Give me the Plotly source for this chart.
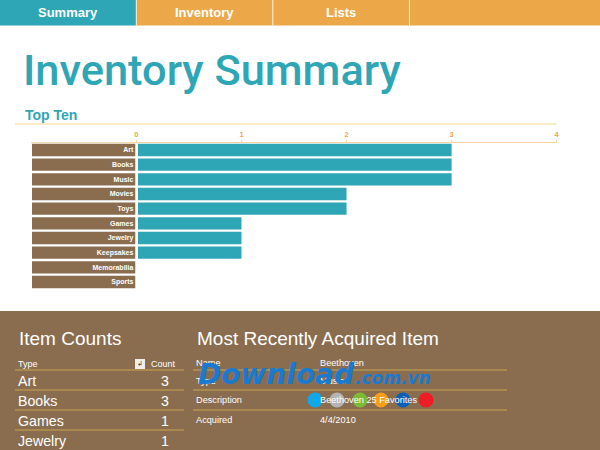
import plotly.graph_objects as go

# Data
categories = ["Art", "Books", "Music", "Movies", "Toys", "Games", "Jewelry", "Keepsakes", "Memorabilia", "Sports"]
values = [3, 3, 3, 2, 2, 1, 1, 1, 0, 0]
x_ticks = [0, 1, 2, 3, 4]
count_types = ["Art", "Books", "Games", "Jewelry"]
count_values = [3, 3, 1, 1]
detail_names = ["Name", "Type", "Description", "Acquired"]
detail_values = ["Beethoven", "Music", "Beethoven 25 Favorites", "4/4/2010"]
nav_labels = ["Summary", "Inventory", "Lists"]
badge_colors = ["#0fa8ea", "#b4b4b4", "#7cbb35", "#f79d1c", "#0b62b4", "#ee1c25"]

TEAL = "#2fa6b6"
ORANGE = "#eca848"
BROWN = "#8a6d4e"
RULE = "#b4934f"
PALE = "#f6d88f"
SANS = "Liberation Sans"
W, H = 600, 450


def px(x):
    return x / W


def py(y):
    return 1 - y / H


shapes = []
annots = []


def rect(x0, y0, x1, y1, color, layer="below"):
    shapes.append(dict(type="rect", xref="paper", yref="paper", x0=px(x0), x1=px(x1), y0=py(y0), y1=py(y1),
                       fillcolor=color, line_width=0, layer=layer))


def hline(x0, x1, y, color, width=1.2):
    shapes.append(dict(type="line", xref="paper", yref="paper", x0=px(x0), x1=px(x1), y0=py(y), y1=py(y),
                       line=dict(color=color, width=width), layer="below"))


def text(x, y, s, size, color="white", anchor="left", font=SANS, weight=None):
    f = dict(size=size, color=color, family=font)
    if weight:
        f["weight"] = weight
    annots.append(dict(xref="paper", yref="paper", x=px(x), y=py(y), text=s, showarrow=False, xanchor=anchor,
                       yanchor="middle", font=f, borderpad=0, borderwidth=0))


# Navigation
rect(0, 0, 136, 25.5, TEAL)
rect(136, 0, 600, 25.5, ORANGE)
for sx in (136.3, 272.8, 409.5):
    shapes.append(dict(type="line", xref="paper", yref="paper", x0=px(sx), x1=px(sx), y0=py(0), y1=py(25.5),
                       line=dict(color="#fdf3e0", width=1), layer="below"))
for cx, label in zip((68, 204, 341), nav_labels):
    text(cx, 12.5, label, 13, anchor="center", weight=700)

# Headings
text(23, 70, "Inventory Summary", 43.4, TEAL, font="Roboto", weight=500)
text(25, 114.5, "Top Ten", 14, TEAL, weight=700)
hline(15, 556.5, 124, PALE, 1.2)

# Label cells behind the y-axis labels
for c in categories:
    shapes.append(dict(type="rect", xref="paper", yref="y", x0=px(32), x1=px(135.5),
                       y0=categories.index(c) - 0.42, y1=categories.index(c) + 0.42,
                       fillcolor=BROWN, line_width=0, layer="below"))
hline(31, 136.4, 142.7, "#f5d3a0", 1)
rect(135.5, 143.6, 138, 289.3, "white", layer="above")

# Bottom panel
rect(0, 311, 600, 450, BROWN)
text(19, 338, "Item Counts", 19)
text(197, 338, "Most Recently Acquired Item", 19)
text(18, 364, "Type", 9)
text(176, 364, "Count", 9, anchor="right")
rect(135, 359, 145, 369, "#f0eee9")
text(140, 364, "↲", 7, "#5a4630", anchor="center", font="DejaVu Sans")
for y in (370, 390, 410, 430):
    hline(15, 184, y, RULE, 1.3)
for y in (370, 390, 410):
    hline(193, 507, y, RULE, 1.3)
for y, t, v in zip((381, 401, 421, 441), count_types, count_values):
    text(18, y, t, 14.2)
    text(169, y, str(v), 14.2, anchor="right")
for y, n, v in zip((363, 381, 400, 420), detail_names, detail_values):
    text(196, y, n, 9.2)
    text(320, y, v, 9.2)

# Watermark
text(198, 374, "<i>Download</i>", 28, "#1a7ad0", font="DejaVu Sans", weight=800)
text(355, 378, "<i>.com.vn</i>", 17, "#1a7ad0", font="DejaVu Sans", weight=800)
for cx, c in zip((315, 337, 360, 381, 403, 426), badge_colors):
    shapes.append(dict(type="circle", xref="paper", yref="paper", x0=px(cx - 7.5), x1=px(cx + 7.5),
                       y0=py(400 + 7.5), y1=py(400 - 7.5), fillcolor=c, line_width=0, layer="above"))

fig = go.Figure(go.Bar(x=values, y=categories, orientation="h", width=0.84, marker=dict(color=TEAL, line_width=0),
                       hoverinfo="skip"))
fig.update_layout(
    width=W, height=H, margin=dict(l=0, r=0, t=0, b=0, autoexpand=False), paper_bgcolor="white",
    plot_bgcolor="rgba(0,0,0,0)", showlegend=False, shapes=shapes, annotations=annots,
    xaxis=dict(domain=[px(136.4), px(556.7)], range=[0, 4], side="top", tickvals=x_ticks, showgrid=False,
               zeroline=False, showline=True, linecolor="#f5d3a0", linewidth=1, ticks="outside", ticklen=2,
               tickcolor="#f5d3a0", tickfont=dict(size=7.5, color=ORANGE, family=SANS, weight=700)),
    yaxis=dict(domain=[py(289.3), py(142.7)], autorange="reversed", type="category", categoryorder="array",
               categoryarray=categories, showgrid=False, zeroline=False, showline=False, ticks="", ticklabelstandoff=2,
               tickfont=dict(size=7, color="white", family=SANS, weight=700)),
)
fig.write_html("out.html", config=dict(displayModeBar=False), post_script="document.body.style.margin='0';")
